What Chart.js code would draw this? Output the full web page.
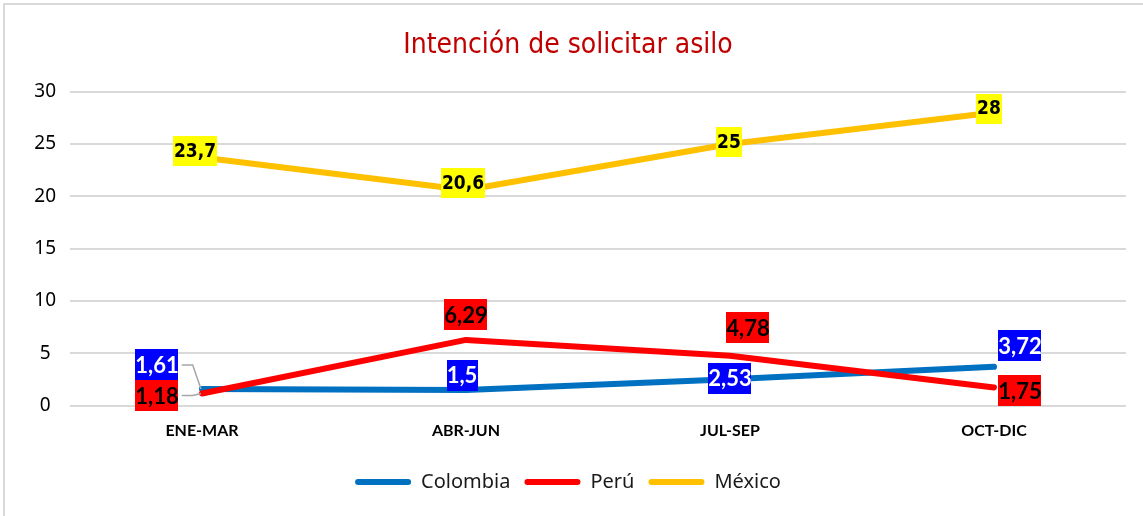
<!DOCTYPE html>
<html>
<head>
<meta charset="utf-8">
<script src="https://cdn.jsdelivr.net/npm/chart.js@4"></script>
<style>
  html, body { margin: 0; padding: 0; background: #fff; }
  #wrap { position: absolute; left: 0; top: 0; width: 1143px; height: 516px; }
  #frame { position: absolute; left: 3px; top: 3px; width: 1300px; height: 700px; border: 2px solid #d9d9d9; box-sizing: border-box; }
</style>
</head>
<body>
<div id="wrap">
  <div id="frame"></div>
  <canvas id="myChart" width="1143" height="516"></canvas>
</div>
<script>
// chart data
const periodos = ['ENE-MAR', 'ABR-JUN', 'JUL-SEP', 'OCT-DIC'];
const colombia = [1.61, 1.5, 2.53, 3.72];
const peru = [1.18, 6.29, 4.78, 1.75];
const mexico = [23.7, 20.6, 25, 28];
const yTicks = [0, 5, 10, 15, 20, 25, 30];

// where each value label sits relative to its point (pixels)
const colombiaLabelPos = [[-45, -24], [-4, -15], [0, -1], [26, -21]];
const peruLabelPos = [[-45, 2], [0, -25], [18, -28], [26, 3]];
const mexicoLabelPos = [[-7, -7], [-3, -7], [-1, -2], [-5, -4]];

const fmt = v => String(v).replace('.', ',');

// simple data label plugin (no datalabels plugin available offline)
const valueLabels = {
  id: 'valueLabels',
  afterDatasetsDraw(chart) {
    const ctx = chart.ctx;
    chart.data.datasets.forEach((ds, di) => {
      const meta = chart.getDatasetMeta(di);
      const lb = ds.labelStyle;
      ctx.save();
      ctx.font = lb.font;
      ctx.textAlign = 'center';
      ctx.textBaseline = 'middle';
      meta.data.forEach((pt, i) => {
        const txt = fmt(ds.data[i]);
        const cx = pt.x + lb.pos[i][0];
        const cy = pt.y + lb.pos[i][1];
        const w = ctx.measureText(txt).width + lb.padX * 2;
        const h = lb.height;
        if (lb.leader && lb.leader[i]) {
          ctx.strokeStyle = '#a6a6a6';
          ctx.lineWidth = 1.5;
          ctx.beginPath();
          ctx.moveTo(cx + w / 2 + 3, cy);
          ctx.lineTo(cx + w / 2 + 14, cy);
          ctx.lineTo(pt.x - 1, pt.y);
          ctx.stroke();
        }
        ctx.fillStyle = lb.bg;
        ctx.fillRect(Math.round(cx - w / 2), Math.round(cy - h / 2), Math.round(w), h);
        ctx.fillStyle = lb.color;
        ctx.fillText(txt, cx, cy + 1);
      });
      ctx.restore();
    });
  }
};

const ctx = document.getElementById('myChart').getContext('2d');
const myChart = new Chart(ctx, {
  type: 'line',
  data: {
    labels: periodos,
    datasets: [{
      label: 'Colombia',
      data: colombia,
      borderColor: '#0070C0',
      backgroundColor: '#0070C0',
      order: 3,
      labelStyle: { pos: colombiaLabelPos, bg: '#0000FF', color: '#fff', font: 'bold 22px Lato', padX: 0, height: 31, leader: [true, false, false, false] }
    }, {
      label: 'Perú',
      data: peru,
      borderColor: '#FF0000',
      backgroundColor: '#FF0000',
      order: 2,
      labelStyle: { pos: peruLabelPos, bg: '#FF0000', color: '#000', font: 'bold 22px Lato', padX: 0, height: 31, leader: [true, false, false, false] }
    }, {
      label: 'México',
      data: mexico,
      borderColor: '#FFC000',
      backgroundColor: '#FFC000',
      order: 1,
      labelStyle: { pos: mexicoLabelPos, bg: '#FFFF00', color: '#000', font: 'bold 19px "DejaVu Sans Condensed"', padX: 1, height: 30 }
    }]
  },
  options: {
    responsive: false,
    animation: false,
    elements: {
      line: { borderWidth: 6, borderCapStyle: 'round', borderJoinStyle: 'round', tension: 0 },
      point: { radius: 0, hoverRadius: 0 }
    },
    layout: { padding: { left: 10, right: 17, top: 0, bottom: 14 } },
    plugins: {
      title: {
        display: true,
        text: 'Intención de solicitar asilo',
        color: '#C00000',
        font: { family: '"Liberation Sans Narrow", "DejaVu Sans Condensed", sans-serif', size: 28, weight: 'normal' },
        padding: { top: 29, bottom: 29 }
      },
      legend: {
        position: 'bottom',
        labels: {
          color: '#1a1a1a',
          font: { family: '"Noto Sans"', size: 20 },
          boxWidth: 56,
          boxHeight: 6,
          padding: 14,
          useBorderRadius: true,
          borderRadius: 3,
          sort: (a, b) => a.datasetIndex - b.datasetIndex,
          generateLabels(chart) {
            return Chart.defaults.plugins.legend.labels.generateLabels(chart).map(l => Object.assign(l, { lineWidth: 0 }));
          }
        }
      },
      tooltip: { enabled: false }
    },
    scales: {
      x: {
        offset: true,
        grid: { display: false },
        border: { display: false },
        afterFit: axis => { axis.height += 11; },
        ticks: { color: '#000', font: { family: 'Lato', size: 16, weight: 'bold' }, padding: 7 }
      },
      y: {
        min: 0,
        max: 30,
        afterBuildTicks: axis => { axis.ticks = yTicks.map(v => ({ value: v })); },
        afterFit: axis => { axis.width = 60; },
        grid: { color: '#d9d9d9', lineWidth: 2, drawTicks: false },
        border: { display: false },
        ticks: { color: '#000', font: { family: '"Noto Sans"', size: 19 }, padding: 14, crossAlign: 'center' }
      }
    }
  },
  plugins: [valueLabels]
});
</script>
</body>
</html>
